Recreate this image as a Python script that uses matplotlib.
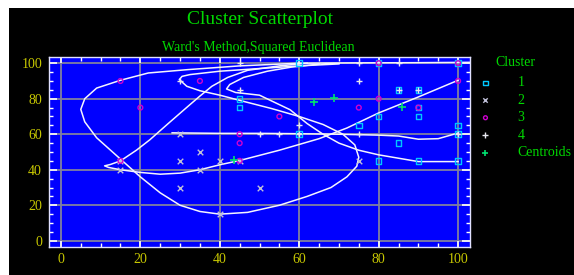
import matplotlib
matplotlib.use("Agg")
import matplotlib.pyplot as plt
from matplotlib.patches import Rectangle
from matplotlib.ticker import MultipleLocator

# cluster members (x, y)
c1_x = [45, 45, 60, 60, 80, 85, 90, 90, 90, 80, 75, 100, 100, 100, 85, 80, 90, 100]
c1_y = [80, 75, 100, 60, 100, 85, 85, 75, 70, 70, 65, 100, 65, 60, 55, 45, 45, 45]
c2_x = [30, 30, 35, 40, 45, 30, 50, 40, 15, 15, 35, 75]
c2_y = [60, 45, 50, 45, 45, 30, 30, 15, 45, 40, 40, 45]
c3_x = [15, 20, 15, 35, 55, 45, 45, 45, 75, 80, 90, 100, 100, 80]
c3_y = [90, 75, 45, 90, 70, 60, 55, 45, 75, 80, 75, 90, 100, 100]
c4_x = [30, 45, 45, 50, 55, 60, 60, 75, 85, 75, 85, 90, 75, 100]
c4_y = [90, 100, 85, 60, 60, 65, 60, 100, 100, 90, 85, 85, 60, 60]
cent_x = [43.6, 63.8, 68.8, 85.8]
cent_y = [45.6, 78.2, 80.4, 75.4]

# white outline curves (approximate traces)
spiral_x = [103, 90, 75, 60, 45, 32, 22, 15, 9, 6, 5, 6, 9, 15, 20, 25, 30, 35, 40, 47, 55,
            62, 68, 72, 74.5, 75, 74, 71, 66, 60, 53, 46, 40, 35, 31.7, 29.8, 30.5, 32.5, 40, 50, 60, 70]
spiral_y = [100.5, 100.3, 100.2, 100, 98.5, 96.4, 94.5, 90.4, 86, 80, 74, 67, 58, 46, 36, 27, 20,
            16.5, 15, 16, 20, 25, 30, 36, 42, 47, 54, 60, 65.5, 70, 74.5, 78.5, 82, 84.5, 87, 90.8,
            92.6, 93.6, 95.5, 97, 98.5, 99.6]
long_x = [100, 90, 80, 72, 65, 55, 45, 40, 35, 30, 25, 20, 15, 12, 11, 12.5, 15, 19, 22.4, 27,
          32.5, 35, 38, 42, 47, 55, 62]
long_y = [90.4, 81, 72, 63.5, 57.5, 51, 45.2, 42.8, 40, 38.1, 37.5, 38.5, 40, 41.3, 42.2, 43,
          45, 51, 56.9, 66, 76.7, 81.5, 87, 92, 96, 98.5, 100]
inner_x = [100, 90, 80, 75, 70, 66, 62, 57.7, 50, 44, 41.7, 42.5, 46, 52, 58, 65]
inner_y = [44.6, 44.6, 48.4, 51, 55, 60, 66, 73.8, 82, 83.5, 85.5, 88, 92, 95.5, 97.8, 99.5]
flat_x = [28, 40, 50, 60, 70, 80, 85, 90, 95, 100]
flat_y = [60.8, 60.5, 60.5, 60.3, 60, 59.5, 59, 57.2, 57.5, 60.7]

green = "#00d800"
yellow = "#c8c800"
serif = "Liberation Serif"

fig = plt.figure(figsize=(5.74, 2.75), dpi=100, facecolor="white")
fig.patches.append(Rectangle((9 / 574, 0), 1, 1 - 8 / 275, transform=fig.transFigure,
                             facecolor="black", edgecolor="none", zorder=-10))

ax = fig.add_axes([49 / 574, 1 - 247 / 275, 421 / 574, 190 / 275])
ax.set_facecolor("#0000ff")
ax.set_xlim(-3, 103)
ax.set_ylim(-3.5, 103.5)

for v in range(0, 101, 20):
    ax.axvline(v, color="#8080a0", lw=1.3, zorder=1)
    ax.axhline(v, color="#8080a0", lw=1.3, zorder=1)

for xs, ys in [(spiral_x, spiral_y), (long_x, long_y), (inner_x, inner_y), (flat_x, flat_y)]:
    ax.plot(xs, ys, color="#f4f4ff", lw=1.1, zorder=2, solid_joinstyle="round")

ax.scatter(c1_x, c1_y, marker="s", s=16, facecolors="none", edgecolors="#00c8ff", lw=1, zorder=3, label="1")
ax.scatter(c2_x, c2_y, marker="x", s=16, color="#c0c0d8", lw=1, zorder=3, label="2")
ax.scatter(c3_x, c3_y, marker="o", s=12, facecolors="none", edgecolors="#d000d0", lw=1, zorder=3, label="3")
ax.scatter(c4_x, c4_y, marker="+", s=22, color="#e8e8f0", lw=1, zorder=3, label="4")
ax.scatter(cent_x, cent_y, marker="+", s=30, color="#00e070", lw=1.2, zorder=4, label="Centroids")

for s in ax.spines.values():
    s.set_color("#e0e0ff")
    s.set_linewidth(1)

ax.xaxis.set_major_locator(MultipleLocator(20))
ax.yaxis.set_major_locator(MultipleLocator(20))
ax.xaxis.set_minor_locator(MultipleLocator(5))
ax.yaxis.set_minor_locator(MultipleLocator(5))
ax.tick_params(which="both", direction="in", color="white", top=True, right=True)
ax.tick_params(which="major", length=6, width=1.2)
ax.tick_params(which="minor", length=3, width=1)
ax.tick_params(axis="x", which="major", length=4)
ax.tick_params(labelcolor=yellow, labelsize=10)
ax.tick_params(axis="y", pad=5)
ax.tick_params(axis="x", pad=4)
for lab in ax.get_xticklabels() + ax.get_yticklabels():
    lab.set_family(serif)

fig.text(260 / 574, 1 - 20 / 275, "Cluster Scatterplot", color=green, fontsize=14,
         family=serif, ha="center", va="center")
fig.text(258 / 574, 1 - 47 / 275, "Ward's Method,Squared Euclidean", color=green, fontsize=10,
         family=serif, ha="center", va="center")
fig.text(515 / 574, 1 - 63 / 275, "Cluster", color=green, fontsize=10,
         family=serif, ha="center", va="center")

leg = ax.legend(loc="upper left", bbox_to_anchor=(466 / 574, 1 - 64 / 275),
                bbox_transform=fig.transFigure, frameon=False,
                prop={"family": serif, "size": 10}, labelcolor=green,
                handletextpad=1.8, labelspacing=0.32, handlelength=1.0, markerscale=0.8)

fig.savefig("out.png", dpi=100, facecolor=fig.get_facecolor())
